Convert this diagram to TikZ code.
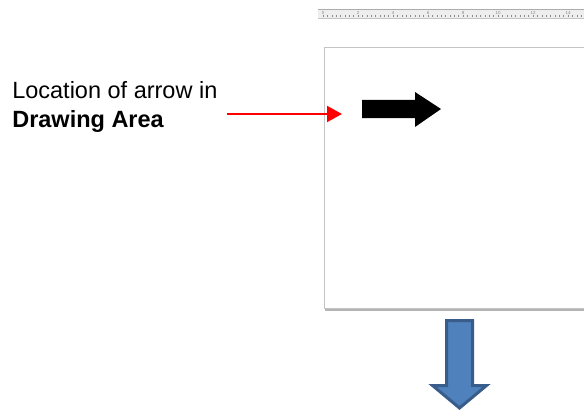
\documentclass[tikz,border=0pt]{standalone}
\usepackage{fontspec}
\setmainfont{Liberation Sans}
\usetikzlibrary{arrows.meta}
\definecolor{arrowblue}{HTML}{4F81BD}
\definecolor{arrowedge}{HTML}{385D8A}
\definecolor{pageedge}{HTML}{C4C4C4}
\definecolor{pageshadow}{HTML}{B4B4B4}
\definecolor{rulerfill}{HTML}{EEEEEE}
\definecolor{rulertick}{HTML}{8A8A8A}

\begin{document}
\begin{tikzpicture}[x=1pt,y=-1pt,line width=0.6pt]
  \useasboundingbox (0,0) rectangle (584,412);
  \coordinate (P1) at (324,48);
  \coordinate (P2) at (592,308);
  \coordinate (S) at (227,114);
  \coordinate (T) at (342,114);

  % ruler
  \fill[rulerfill] (318,9.5) rectangle (586,18);
  \draw[rulertick!70] (318,9.5) -- (586,9.5);
  \draw[rulertick!50] (318,18) -- (586,18);
  \foreach \k in {0,...,60}
    \draw[rulertick,line width=0.4pt] ({323+\k*4.375},15.5) -- ({323+\k*4.375},17.5);
  \foreach \n in {0,2,...,14}
    \node[inner sep=0,text=rulertick,font=\fontsize{4.5}{5}\selectfont] at ({323+\n*17.5},13) {\n};

  % drawing area
  \fill[pageshadow] (325,48) rectangle (592,311);
  \draw[pageedge,fill=white,line width=1pt] (P1) rectangle (P2);

  % arrows
  \fill[black] (362,100) -- (415,100) -- (415,92) -- (441,109) -- (415,127)
    -- (415,118) -- (362,118) -- cycle;
  \draw[arrowedge,fill=arrowblue,line width=3pt,line join=miter]
    (446.5,320.5) -- (472.5,320.5) -- (472.5,385.5) -- (486.5,385.5)
    -- (459.5,408) -- (432.5,385.5) -- (446.5,385.5) -- cycle;

  % callout
  \node[anchor=base west,align=left,inner sep=0,font=\fontsize{23.5}{29}\selectfont]
    (callout) at (12,128) {Location of arrow in\\\textbf{Drawing Area}};
  \draw[red,line width=2pt,-{Triangle[length=15pt,width=16pt]}] (S) -- (T);
\end{tikzpicture}
\end{document}
